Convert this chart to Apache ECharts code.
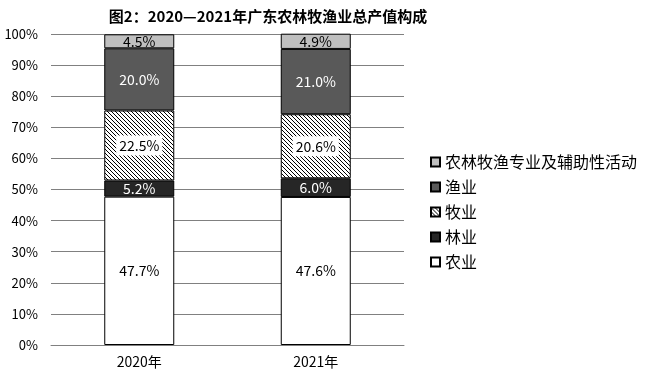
<!DOCTYPE html>
<html>
<head>
<meta charset="utf-8">
<script src="https://cdn.jsdelivr.net/npm/echarts@6/dist/echarts.min.js"></script>
<style>html,body{margin:0;padding:0;background:#fff;}#c{width:649px;height:382px;}</style>
</head>
<body>
<div id="c"></div>
<script>
const categories = ['2020年', '2021年'];
const seriesNames = ['农业', '林业', '牧业', '渔业', '农林牧渔专业及辅助性活动'];
const agriculture = [47.7, 47.6];
const forestry = [5.2, 6.0];
const livestock = [22.5, 20.6];
const fishery = [20.0, 21.0];
const services = [4.5, 4.9];
const yTicks = [0, 10, 20, 30, 40, 50, 60, 70, 80, 90, 100];

const FONT = '"Noto Sans CJK SC", "Noto Sans", sans-serif';

const P = 4;
const pc = document.createElement('canvas');
pc.width = P; pc.height = P;
const pctx = pc.getContext('2d');
pctx.fillStyle = '#ffffff'; pctx.fillRect(0, 0, P, P);
pctx.fillStyle = '#000000';
for (let i = 0; i < P; i++) pctx.fillRect(i, i, 1, 1);
const hatch = { image: pc, repeat: 'repeat' };

const colors = ['#ffffff', '#262626', hatch, '#595959', '#bfbfbf'];
const labelColors = ['#000', '#fff', '#000', '#fff', '#000'];
const values = [agriculture, forestry, livestock, fishery, services];

const chart = echarts.init(document.getElementById('c'));
const series = seriesNames.map((name, i) => ({
  name: name,
  type: 'bar',
  stack: 'total',
  barWidth: 70,
  data: values[i],
  itemStyle: { color: colors[i], borderColor: '#000', borderWidth: 1 },
  label: {
    show: true,
    position: 'inside',
    color: labelColors[i],
    fontFamily: FONT,
    fontSize: 14,
    formatter: p => p.value.toFixed(1) + '%',
    backgroundColor: i === 2 ? '#fff' : 'transparent',
    padding: i === 2 ? [3, 3] : 0
  }
}));

chart.setOption({
  animation: false,
  title: {
    text: '图2：2020—2021年广东农林牧渔业总产值构成',
    left: 263,
    textAlign: 'center',
    top: 4,
    textStyle: { fontFamily: FONT, fontSize: 15, fontWeight: 'bold', color: '#000' }
  },
  grid: { left: 51, right: 245, top: 34, bottom: 37 },
  legend: {
    orient: 'vertical',
    left: 425,
    top: 149,
    itemWidth: 9,
    itemHeight: 9,
    itemGap: 9,
    icon: 'rect',
    data: ['农林牧渔专业及辅助性活动', '渔业', '牧业', '林业', '农业'],
    textStyle: { fontFamily: FONT, fontSize: 16, color: '#000' }
  },
  xAxis: {
    type: 'category',
    data: categories,
    axisLine: { show: true, lineStyle: { color: '#808080' } },
    axisTick: { show: false },
    axisLabel: { color: '#000', fontFamily: FONT, fontSize: 14, margin: 10 }
  },
  yAxis: {
    type: 'value',
    min: 0,
    max: 100,
    interval: 10,
    axisLine: { show: false },
    axisTick: { show: false },
    splitLine: { lineStyle: { color: '#808080' } },
    axisLabel: { color: '#000', fontFamily: FONT, fontSize: 13, margin: 13,
      formatter: v => yTicks.indexOf(v) >= 0 ? v + '%' : '' }
  },
  series: series
});
</script>
</body>
</html>
